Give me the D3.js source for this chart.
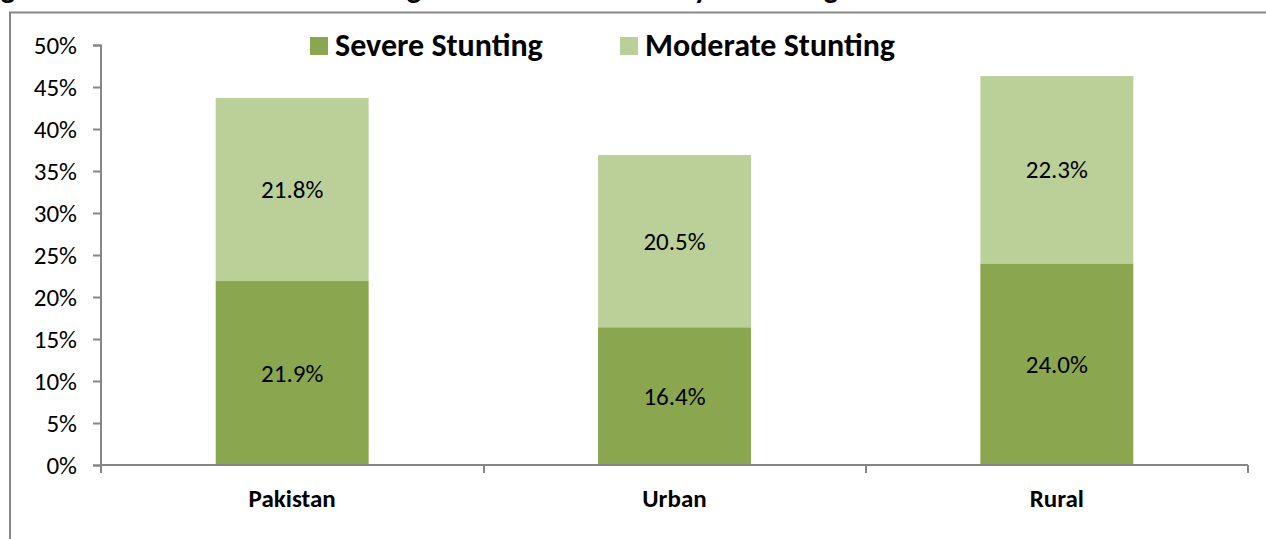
<!DOCTYPE html>
<html>
<head>
<meta charset="utf-8">
<script src="https://cdn.jsdelivr.net/npm/d3@7"></script>
<style>
  body { margin: 0; background: #fff; }
  text { font-family: Carlito, "Open Sans", sans-serif; }
</style>
</head>
<body>
<script>
// chart values
const regions = ["Pakistan", "Urban", "Rural"];
const severe = [21.9, 16.4, 24.0];
const moderate = [21.8, 20.5, 22.3];
const seriesNames = ["Severe Stunting", "Moderate Stunting"];
const yTicks = [0, 5, 10, 15, 20, 25, 30, 35, 40, 45, 50];

const colors = ["#8aa64f", "#bbcf98"];

var svg = d3.select("body").append("svg")
    .attr("width", 1266)
    .attr("height", 539);

// title is cut off in the original, only the descenders peek in at the top
var titleParts = [
    { t: "Fig", x: 15 },
    { t: "Stunting", x: 421 },
    { t: "Severity", x: 708 },
    { t: "Stunting", x: 838 }
];
svg.append("g").selectAll("text").data(titleParts).enter().append("text")
    .attr("x", d => d.x)
    .attr("y", -2)
    .attr("text-anchor", "end")
    .style("font-size", "30px")
    .style("font-weight", "bold")
    .text(d => d.t);

// outer frame
svg.append("path")
    .attr("d", "M10,539 V12.5 H1266")
    .attr("fill", "none")
    .attr("stroke", "#888")
    .attr("stroke-width", 2);

var x = d3.scaleBand()
    .domain(regions)
    .range([101, 1248])
    .paddingInner(0.6)
    .paddingOuter(0.3);

var y = d3.scaleLinear()
    .domain([0, 50])
    .range([465, 45]);

// stacked bars
var stack = regions.map(function(r, i) {
    return [
        { key: 0, y0: 0, y1: severe[i], v: severe[i], r: r },
        { key: 1, y0: severe[i], y1: severe[i] + moderate[i], v: moderate[i], r: r }
    ];
});

var g = svg.append("g");
stack.forEach(function(segs) {
    segs.forEach(function(s) {
        g.append("rect")
            .attr("x", x(s.r))
            .attr("width", x.bandwidth())
            .attr("y", y(s.y1))
            .attr("height", y(s.y0) - y(s.y1))
            .attr("fill", colors[s.key]);
        g.append("text")
            .attr("x", x(s.r) + x.bandwidth() / 2)
            .attr("y", (y(s.y0) + y(s.y1)) / 2)
            .attr("dy", "0.35em")
            .attr("text-anchor", "middle")
            .style("font-size", "25px")
            .attr("fill", "#000")
            .text(s.v.toFixed(1) + "%");
    });
});

// y axis
var yAxis = svg.append("g")
    .attr("transform", "translate(101,0)")
    .call(d3.axisLeft(y).tickValues(yTicks).tickSize(8).tickPadding(16)
        .tickFormat(function(d) { return d + "%"; }));
yAxis.selectAll("text").style("font-size", "25px").attr("fill", "#000")
    .style("font-family", 'Carlito, "Open Sans", sans-serif');

// x axis with ticks between categories
var bounds = [101, 484, 866, 1248];
var xAxis = svg.append("g").attr("class", "xaxis");
xAxis.append("line")
    .attr("x1", 101).attr("x2", 1248)
    .attr("y1", 465).attr("y2", 465);
xAxis.selectAll(".tk").data(bounds).enter().append("line")
    .attr("x1", d => d).attr("x2", d => d)
    .attr("y1", 465).attr("y2", 473);
xAxis.selectAll("text").data(regions).enter().append("text")
    .attr("x", d => x(d) + x.bandwidth() / 2)
    .attr("y", 507)
    .attr("text-anchor", "middle")
    .style("font-size", "25px")
    .style("font-weight", "bold")
    .text(d => d);

svg.selectAll(".domain, .tick line, .xaxis line")
    .attr("stroke", "#868686")
    .attr("stroke-width", 2);
yAxis.select(".domain").attr("d", "M-8,45.5H0V465.5H-8");

// legend
var legendX = [310, 620];
var legend = svg.selectAll(".legend").data(seriesNames).enter().append("g")
    .attr("transform", (d, i) => "translate(" + legendX[i] + ",0)");
legend.append("rect")
    .attr("x", 0).attr("y", 37)
    .attr("width", 18).attr("height", 18)
    .attr("fill", (d, i) => colors[i]);
legend.append("text")
    .attr("x", 25).attr("y", 56)
    .style("font-size", "32px")
    .style("font-weight", "bold")
    .text(d => d);
</script>
</body>
</html>
